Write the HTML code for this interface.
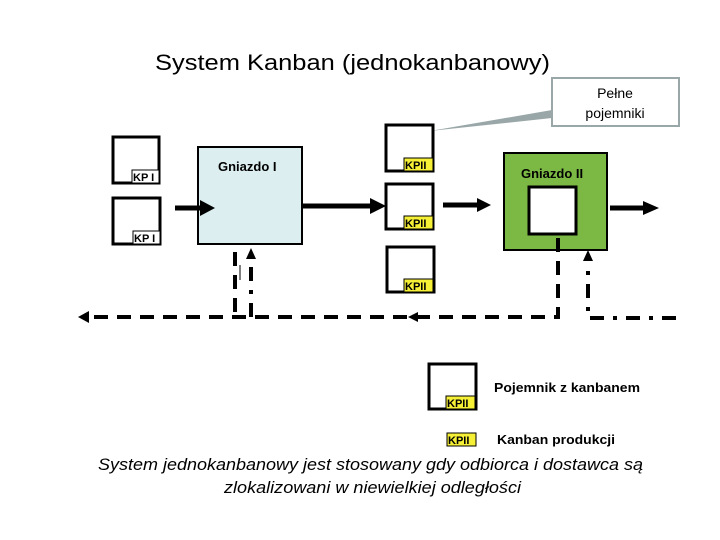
<!DOCTYPE html>
<html><head><meta charset="utf-8"><style>
html,body{margin:0;padding:0;background:#fff;}
svg{display:block;font-family:"Liberation Sans",Arial,sans-serif;}
</style></head><body>
<svg width="720" height="540" viewBox="0 0 720 540" xmlns="http://www.w3.org/2000/svg">
<text x="155" y="70" font-size="22" fill="#000" textLength="395" lengthAdjust="spacingAndGlyphs">System Kanban (jednokanbanowy)</text>
<!-- callout -->
<polygon points="430,131 552,110 552,118" fill="#9aa7a8"/>
<rect x="552" y="78" width="127" height="48" fill="#fff" stroke="#9aa7a8" stroke-width="2"/>
<text x="615" y="98" font-size="14" text-anchor="middle">Pełne</text>
<text x="615" y="118" font-size="14" text-anchor="middle">pojemniki</text>

<g fill="#fff" stroke="#000" stroke-width="3">
<rect x="113" y="137" width="46" height="46"/>
<rect x="113" y="198" width="47" height="46"/>
<rect x="198" y="147" width="104" height="97" fill="#ddeef0" stroke-width="2"/>
<rect x="386" y="125" width="47" height="46"/>
<rect x="386" y="184" width="47" height="45"/>
<rect x="387" y="247" width="47" height="45"/>
<rect x="504" y="153" width="103" height="97" fill="#7cb944" stroke-width="2"/>
<rect x="529" y="187" width="47" height="47"/>
<rect x="429" y="364" width="47" height="45"/>
</g>
<g font-size="11" font-weight="bold">
<rect x="132" y="170" width="27" height="13" fill="#fff" stroke="#000" stroke-width="1"/><text x="133" y="181">KP I</text>
<rect x="133" y="231" width="27" height="13" fill="#fff" stroke="#000" stroke-width="1"/><text x="134" y="242">KP I</text>
<g fill="#000">
<rect x="404" y="158" width="29" height="13" fill="#f5f035" stroke="#000" stroke-width="1"/><text x="405" y="169">KPII</text>
<rect x="404" y="216" width="29" height="13" fill="#f5f035" stroke="#000" stroke-width="1"/><text x="405" y="227">KPII</text>
<rect x="404" y="279" width="29" height="13" fill="#f5f035" stroke="#000" stroke-width="1"/><text x="405" y="290">KPII</text>
<rect x="446" y="396" width="29" height="13" fill="#f5f035" stroke="#000" stroke-width="1"/><text x="447" y="407">KPII</text>
<rect x="447" y="433" width="29" height="13" fill="#f5f035" stroke="#000" stroke-width="1"/><text x="448" y="444">KPII</text>
</g>
</g>
<text x="218" y="171" font-size="13" font-weight="bold">Gniazdo I</text>
<text x="521" y="178" font-size="13" font-weight="bold">Gniazdo II</text>

<!-- solid arrows -->
<g stroke="#000" stroke-width="5">
<line x1="175" y1="208" x2="202" y2="208"/>
<line x1="303" y1="206" x2="372" y2="206"/>
<line x1="443" y1="205" x2="478" y2="205"/>
<line x1="610" y1="208" x2="645" y2="208"/>
</g>
<g fill="#000">
<polygon points="200,200 215,208 200,216"/>
<polygon points="370,198 386,206 370,214"/>
<polygon points="477,198 491,205 477,212"/>
<polygon points="643,201 659,208 643,215"/>
</g>

<!-- dashed -->
<g stroke="#000" stroke-width="4" fill="none" stroke-dasharray="14,9">
<polyline points="558,238 558,317 85,317"/>
<line x1="235" y1="252" x2="235" y2="317"/>
</g>
<g stroke="#000" stroke-width="4" fill="none" stroke-dasharray="14,9,4,9">
<polyline points="676,318 588,318 588,262"/>
<line x1="251" y1="317" x2="251" y2="260"/>
</g>
<line x1="240" y1="265" x2="240" y2="280" stroke="#000" stroke-width="1"/>
<g fill="#000">
<polygon points="78,317 89,311 89,323"/>
<polygon points="408,317 418,312 418,322"/>
<polygon points="251,248 246,259 256,259"/>
<polygon points="588,250 583,261 593,261"/>
</g>

<text x="494" y="392" font-size="13" font-weight="bold" textLength="146" lengthAdjust="spacingAndGlyphs">Pojemnik z kanbanem</text>
<text x="497" y="444" font-size="13" font-weight="bold" textLength="118" lengthAdjust="spacingAndGlyphs">Kanban produkcji</text>
<text x="98" y="470" font-size="17" font-style="italic" textLength="545" lengthAdjust="spacingAndGlyphs">System jednokanbanowy jest stosowany gdy odbiorca i dostawca są</text>
<text x="224" y="493" font-size="17" font-style="italic" textLength="297" lengthAdjust="spacingAndGlyphs">zlokalizowani w niewielkiej odległości</text>
</svg>
</body></html>
